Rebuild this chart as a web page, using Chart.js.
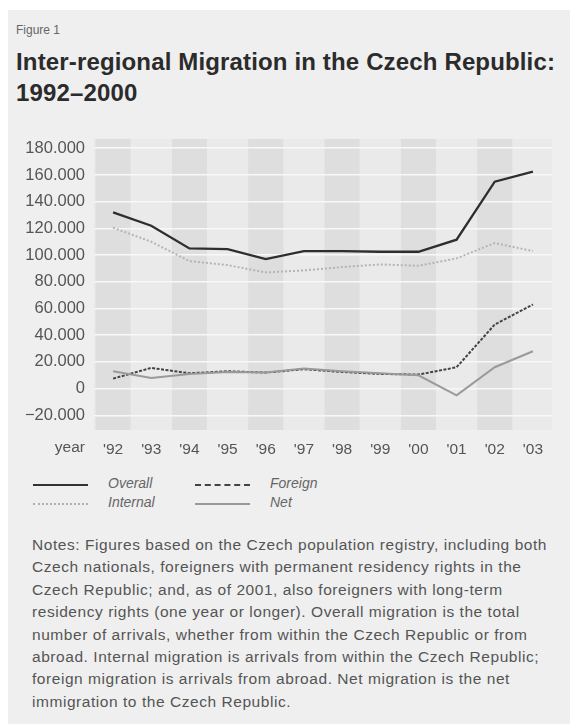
<!DOCTYPE html>
<html>
<head>
<meta charset="utf-8">
<script src="https://cdn.jsdelivr.net/npm/chart.js@4"></script>
<style>
  body { margin: 0; background: #fff; width: 570px; height: 724px; position: relative; overflow: hidden; }
  .card { position: absolute; left: 8px; top: 10px; width: 562px; height: 714px; background: #efefef; }
  .fig { position: absolute; left: 16px; top: 23px; font: 12px "Liberation Sans", sans-serif; color: #666; }
  .title { position: absolute; left: 16px; top: 46px; font: bold 24px/31px "Liberation Sans", sans-serif; letter-spacing: 0.15px; color: #2b2b2b; white-space: nowrap; }
  #wrap { position: absolute; left: 0; top: 120px; }
  .legend { position: absolute; left: 33px; top: 475px; font: italic 14px "Liberation Sans", sans-serif; color: #666; }
  .legend .item { position: absolute; white-space: nowrap; }
  .legend .swatch { position: absolute; width: 55px; height: 0; top: 9px; }
  .legend .lbl { position: absolute; left: 75px; top: 0; }
  .notes { position: absolute; left: 32px; top: 534px; font: 15.5px/22.4px "Liberation Sans", sans-serif; letter-spacing: 0.55px; color: #555; white-space: nowrap; }
</style>
</head>
<body>
<div class="card"></div>
<div class="fig">Figure 1</div>
<div class="title">Inter-regional Migration in the Czech Republic:<br>1992–2000</div>
<div id="wrap"><canvas id="chart" width="565" height="345"></canvas></div>
<div class="legend">
  <div class="item" style="left:0;top:0"><div class="swatch" style="border-top:2px solid #333"></div><div class="lbl">Overall</div></div>
  <div class="item" style="left:162px;top:0"><div class="swatch" style="border-top:2px dashed #444"></div><div class="lbl">Foreign</div></div>
  <div class="item" style="left:0;top:19px"><div class="swatch" style="border-top:2px dotted #b0b0b0"></div><div class="lbl">Internal</div></div>
  <div class="item" style="left:162px;top:19px"><div class="swatch" style="border-top:2px solid #9a9a9a"></div><div class="lbl">Net</div></div>
</div>
<div class="notes">Notes: Figures based on the Czech population registry, including both<br>
Czech nationals, foreigners with permanent residency rights in the<br>
Czech Republic; and, as of 2001, also foreigners with long-term<br>
residency rights (one year or longer). Overall migration is the total<br>
number of arrivals, whether from within the Czech Republic or from<br>
abroad. Internal migration is arrivals from within the Czech Republic;<br>
foreign migration is arrivals from abroad. Net migration is the net<br>
immigration to the Czech Republic.</div>
<script>
// data
const years = ["'92", "'93", "'94", "'95", "'96", "'97", "'98", "'99", "'00", "'01", "'02", "'03"];
const overall = [132000, 122000, 105000, 104500, 97000, 103000, 103000, 102500, 102500, 111500, 155000, 162500];
const internal = [120500, 110000, 95500, 92500, 87000, 88500, 91000, 93000, 92000, 97500, 109000, 103000];
const foreign = [7500, 15500, 11500, 13000, 12000, 14500, 12500, 11000, 10500, 16000, 48000, 63000];
const net = [13000, 8000, 11000, 12500, 12000, 15000, 13000, 11500, 10000, -5000, 16000, 28000];
const yTicks = [-20000, 0, 20000, 40000, 60000, 80000, 100000, 120000, 140000, 160000, 180000];

const tickFont = { family: "'Liberation Sans', sans-serif", size: 16.5 };
const xTickFont = { family: "'Liberation Sans', sans-serif", size: 15.5 };
const tickColor = '#555';

// 180000 -> "180.000", -20000 -> "−20.000"
const formatTick = (v) => {
  if (v === 0) return '0';
  return (v < 0 ? '\u2212' : '') + (Math.abs(v) / 1000) + '.000';
};

// shaded plot background with alternating year bands, plus the "year" label
const bandsPlugin = {
  id: 'bands',
  beforeDraw(chart) {
    const { ctx, chartArea: a, scales: { x } } = chart;
    ctx.save();
    ctx.fillStyle = '#eaeaea';
    ctx.fillRect(a.left, a.top, a.right - a.left, a.bottom - a.top);
    const step = x.getPixelForValue(1) - x.getPixelForValue(0);
    ctx.fillStyle = '#dedede';
    years.forEach((y, i) => {
      if (i % 2) return;
      const px = x.getPixelForValue(i);
      ctx.fillRect(px - step * 0.46, a.top, step * 0.92, a.bottom - a.top);
    });
    ctx.restore();
  },
  afterDraw(chart) {
    const { ctx, chartArea: a } = chart;
    ctx.save();
    ctx.font = `${xTickFont.size}px ${xTickFont.family}`;
    ctx.fillStyle = tickColor;
    ctx.textAlign = 'right';
    ctx.textBaseline = 'middle';
    ctx.fillText('year', a.left - 9, a.bottom + 18);
    ctx.restore();
  }
};

const lineDefaults = { pointRadius: 0, tension: 0, borderWidth: 2, fill: false };

new Chart(document.getElementById('chart'), {
  type: 'line',
  data: {
    labels: years,
    datasets: [
      { ...lineDefaults, label: 'Internal', data: internal, borderColor: '#b4b4b4', borderDash: [2, 2] },
      { ...lineDefaults, label: 'Net', data: net, borderColor: '#9a9a9a' },
      { ...lineDefaults, label: 'Foreign', data: foreign, borderColor: '#444', borderDash: [3, 1.5] },
      { ...lineDefaults, label: 'Overall', data: overall, borderColor: '#2e2e2e', borderWidth: 2.3 }
    ]
  },
  options: {
    responsive: false,
    animation: false,
    layout: { padding: { top: 1, right: 13, left: 0, bottom: 0 } },
    plugins: { legend: { display: false }, tooltip: { enabled: false } },
    scales: {
      x: {
        offset: true,
        grid: { display: false, drawTicks: false },
        border: { display: false },
        ticks: { color: tickColor, font: xTickFont, padding: 10, maxRotation: 0 },
        afterFit: (s) => { s.height = 35; }
      },
      y: {
        min: -31000,
        max: 187000,
        afterBuildTicks: (s) => { s.ticks = yTicks.map(v => ({ value: v })); },
        grid: { color: '#f8f8f8', lineWidth: 1.5, drawTicks: false },
        border: { display: false },
        ticks: { color: tickColor, font: tickFont, padding: 9, callback: formatTick },
        afterFit: (s) => { s.width = 94; }
      }
    }
  },
  plugins: [bandsPlugin]
});
</script>
</body>
</html>
